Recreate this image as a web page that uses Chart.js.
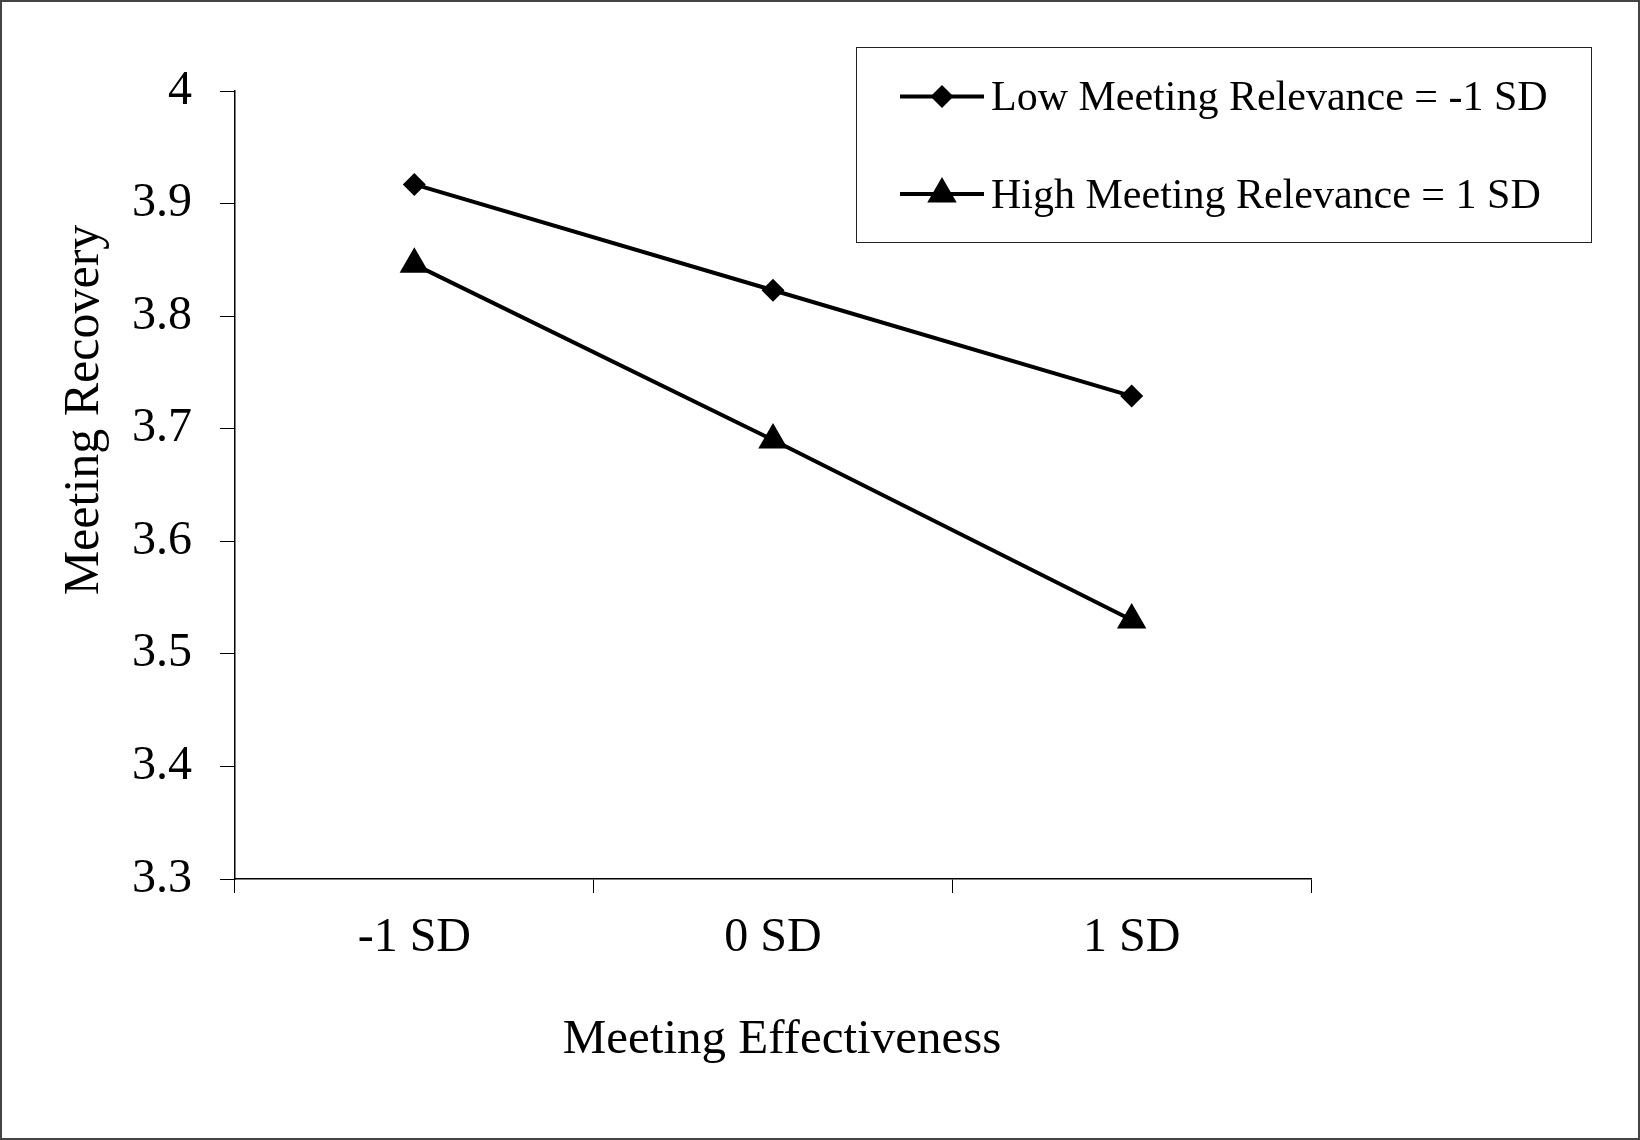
<!DOCTYPE html>
<html>
<head>
<meta charset="utf-8">
<script src="https://cdn.jsdelivr.net/npm/chart.js@4/dist/chart.umd.min.js"></script>
<style>
  html, body { margin: 0; padding: 0; background: #fff; }
  canvas { display: block; }
</style>
</head>
<body>
<canvas id="grafico" width="1640" height="1140"></canvas>
<script>
// Dados
const categorias = ['-1 SD', '0 SD', '1 SD'];
const baixaRelevancia = [3.917, 3.823, 3.729];
const altaRelevancia = [3.846, 3.690, 3.530];
const ticksY = [3.3, 3.4, 3.5, 3.6, 3.7, 3.8, 3.9, 4];

const tituloX = 'Meeting Effectiveness';
const tituloY = 'Meeting Recovery';
const nomeBaixa = 'Low Meeting Relevance = -1 SD';
const nomeAlta = 'High Meeting Relevance = 1 SD';

const fonte = 'Liberation Serif, "Times New Roman", serif';

// Fundo branco, moldura, títulos dos eixos e legenda com caixa
const extras = {
  id: 'extras',
  beforeDraw(chart) {
    const ctx = chart.ctx;
    ctx.save();
    ctx.fillStyle = '#fff';
    ctx.fillRect(0, 0, chart.width, chart.height);
    ctx.restore();
  },
  afterDraw(chart) {
    const ctx = chart.ctx;
    ctx.save();

    // moldura externa
    ctx.strokeStyle = '#444';
    ctx.lineWidth = 2;
    ctx.strokeRect(1, 1, chart.width - 2, chart.height - 2);

    // títulos dos eixos
    ctx.fillStyle = '#000';
    ctx.font = '49px ' + fonte;
    ctx.textAlign = 'center';
    ctx.textBaseline = 'alphabetic';
    ctx.fillText(tituloX, 782, 1053);

    ctx.save();
    ctx.translate(98, 410);
    ctx.rotate(-Math.PI / 2);
    ctx.font = '50px ' + fonte;
    ctx.fillText(tituloY, 0, 0);
    ctx.restore();

    // legenda
    ctx.strokeStyle = '#222';
    ctx.lineWidth = 1;
    ctx.strokeRect(856.5, 47.5, 735, 195);

    const linhas = [96.5, 194];
    const bases = [110, 207.5];
    chart.data.datasets.forEach((ds, i) => {
      const y = linhas[i];
      ctx.strokeStyle = ds.borderColor;
      ctx.lineWidth = ds.borderWidth;
      ctx.beginPath();
      ctx.moveTo(900, y);
      ctx.lineTo(984, y);
      ctx.stroke();

      ctx.fillStyle = ds.pointBackgroundColor;
      Chart.helpers.drawPoint(ctx, {
        pointStyle: ds.pointStyle,
        rotation: 0,
        radius: ds.pointRadius,
        borderWidth: 0
      }, 942, y);

      ctx.fillStyle = '#000';
      ctx.font = '42px ' + fonte;
      ctx.textAlign = 'left';
      ctx.textBaseline = 'alphabetic';
      ctx.fillText(ds.label, 991, bases[i]);
    });

    ctx.restore();
  }
};

const grafico = new Chart(document.getElementById('grafico'), {
  type: 'line',
  data: {
    labels: categorias,
    datasets: [
      {
        label: nomeBaixa,
        data: baixaRelevancia,
        borderColor: '#000',
        borderWidth: 4,
        pointStyle: 'rectRot',
        pointRadius: 11.5,
        pointBackgroundColor: '#000',
        pointBorderWidth: 0,
        tension: 0
      },
      {
        label: nomeAlta,
        data: altaRelevancia,
        borderColor: '#000',
        borderWidth: 4,
        pointStyle: 'triangle',
        pointRadius: 17,
        pointBackgroundColor: '#000',
        pointBorderWidth: 0,
        tension: 0
      }
    ]
  },
  options: {
    responsive: false,
    animation: false,
    devicePixelRatio: 1,
    layout: {
      padding: { left: 0, top: 91, right: 329, bottom: 0 }
    },
    plugins: {
      legend: { display: false },
      tooltip: { enabled: false }
    },
    scales: {
      x: {
        type: 'category',
        offset: true,
        afterFit: s => { s.height = 261; },
        grid: {
          offset: true,
          drawOnChartArea: false,
          tickLength: 14,
          color: '#000',
          lineWidth: 1
        },
        border: { color: '#000', width: 1.5 },
        ticks: {
          color: '#000',
          padding: 17,
          font: { family: fonte, size: 48 }
        }
      },
      y: {
        min: 3.3,
        max: 4,
        afterFit: s => { s.width = 235; },
        afterBuildTicks: s => { s.ticks = ticksY.map(v => ({ value: v })); },
        grid: {
          drawOnChartArea: false,
          tickLength: 15,
          color: '#000',
          lineWidth: 1
        },
        border: { color: '#000', width: 1.5 },
        ticks: {
          color: '#000',
          padding: 28,
          font: { family: fonte, size: 48 },
          callback: v => String(Math.round(v * 10) / 10)
        }
      }
    }
  },
  plugins: [extras]
});
</script>
</body>
</html>
